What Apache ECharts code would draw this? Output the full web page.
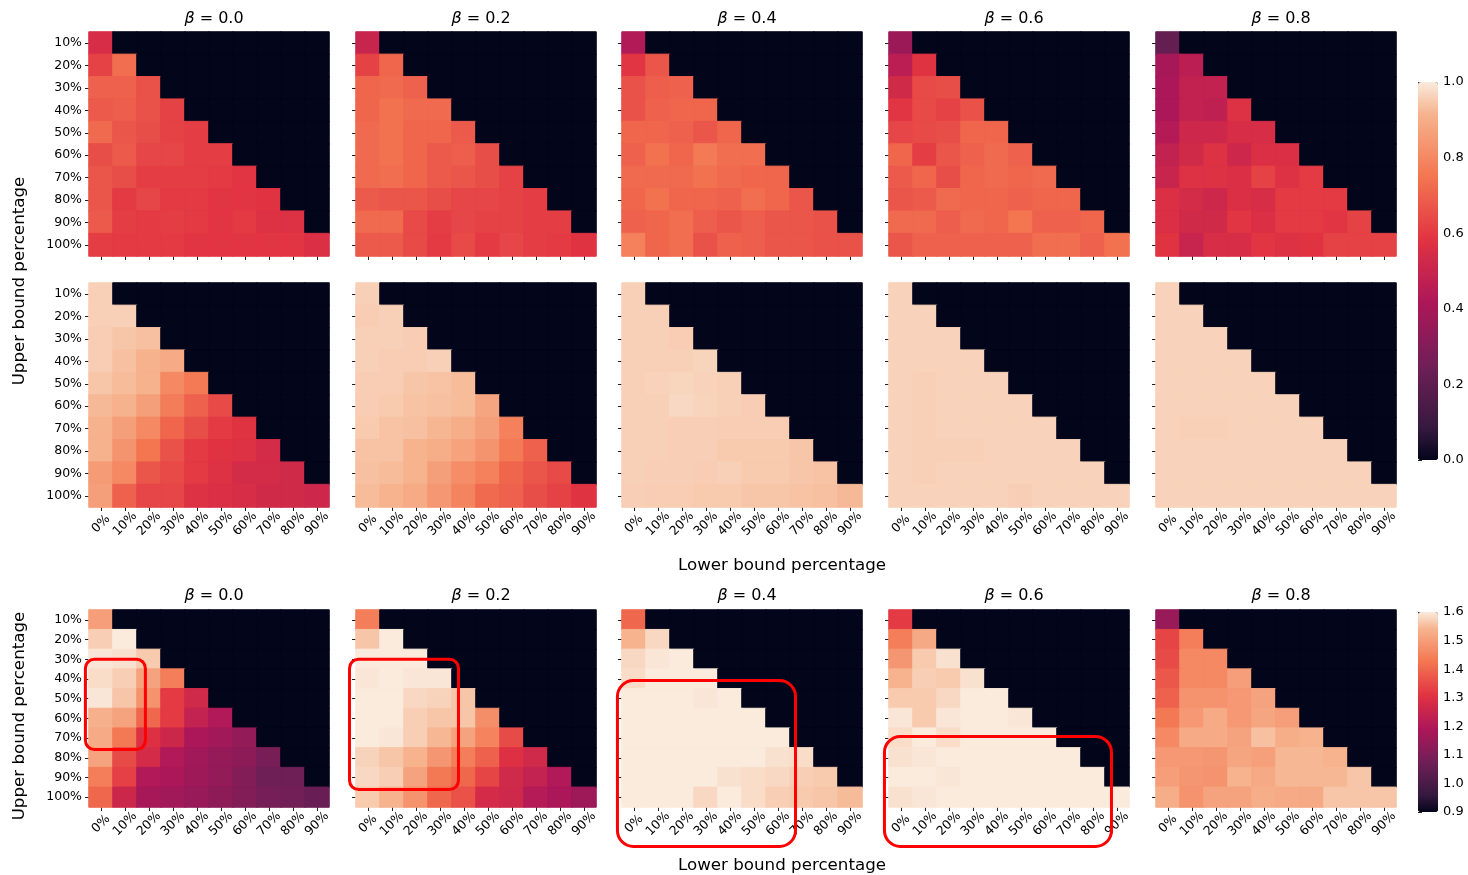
<!DOCTYPE html>
<html><head><meta charset="utf-8">
<script src="https://cdn.jsdelivr.net/npm/echarts@6/dist/echarts.min.js"></script>
<style>html,body{margin:0;padding:0;background:#fff}#c{width:1468px;height:875px}</style>
</head><body><div id="c"></div>
<script>
// ---------------- DATA ----------------
const xCats = ['0%','10%','20%','30%','40%','50%','60%','70%','80%','90%'];
const yCats = ['10%','20%','30%','40%','50%','60%','70%','80%','90%','100%'];
const betaLabels = ['0.0','0.2','0.4','0.6','0.8'];
const MASK = 0; // masked (upper-triangle) cells

// Row 1 (colour scale 0–1)
const r1_b00 = [[0.55],[0.62,0.73],[0.70,0.70,0.66],[0.68,0.69,0.66,0.62],[0.72,0.67,0.65,0.62,0.61],
 [0.65,0.68,0.63,0.63,0.61,0.61],[0.67,0.65,0.61,0.61,0.61,0.60,0.59],[0.67,0.60,0.63,0.60,0.60,0.59,0.59,0.58],
 [0.68,0.61,0.60,0.61,0.60,0.59,0.60,0.57,0.57],[0.61,0.60,0.60,0.60,0.59,0.59,0.59,0.59,0.59,0.56]];
const r1_b02 = [[0.50],[0.62,0.71],[0.71,0.72,0.70],[0.71,0.74,0.72,0.72],[0.72,0.74,0.71,0.71,0.68],
 [0.72,0.74,0.71,0.68,0.69,0.65],[0.72,0.73,0.71,0.68,0.67,0.65,0.62],[0.68,0.67,0.67,0.65,0.63,0.63,0.62,0.61],
 [0.72,0.72,0.64,0.61,0.63,0.62,0.62,0.61,0.61],[0.68,0.68,0.64,0.60,0.64,0.60,0.63,0.61,0.60,0.58]];
const r1_b04 = [[0.43],[0.59,0.67],[0.66,0.69,0.70],[0.66,0.70,0.71,0.71],[0.71,0.71,0.70,0.67,0.71],
 [0.70,0.74,0.71,0.76,0.73,0.73],[0.72,0.72,0.72,0.74,0.72,0.71,0.71],[0.71,0.74,0.71,0.71,0.70,0.73,0.71,0.67],
 [0.70,0.71,0.73,0.69,0.67,0.69,0.67,0.67,0.66],[0.78,0.71,0.73,0.66,0.70,0.69,0.67,0.67,0.66,0.66]];
const r1_b06 = [[0.37],[0.46,0.58],[0.53,0.64,0.65],[0.59,0.64,0.62,0.66],[0.63,0.64,0.65,0.71,0.71],
 [0.71,0.61,0.67,0.70,0.72,0.70],[0.68,0.71,0.65,0.71,0.72,0.71,0.72],[0.67,0.68,0.72,0.71,0.71,0.70,0.71,0.71],
 [0.72,0.72,0.69,0.72,0.71,0.75,0.70,0.70,0.71],[0.67,0.70,0.70,0.70,0.70,0.70,0.73,0.73,0.70,0.74]];
const r1_b08 = [[0.22],[0.40,0.46],[0.41,0.48,0.48],[0.41,0.48,0.47,0.57],[0.44,0.52,0.52,0.55,0.55],
 [0.48,0.53,0.57,0.52,0.56,0.56],[0.50,0.57,0.57,0.56,0.62,0.57,0.60],[0.56,0.54,0.52,0.56,0.55,0.60,0.60,0.60],
 [0.56,0.53,0.53,0.59,0.56,0.60,0.60,0.59,0.62],[0.58,0.50,0.55,0.55,0.59,0.57,0.58,0.62,0.62,0.62]];

// Row 2 (colour scale 0–1)
const r2_b00 = [[0.96],[0.96,0.96],[0.955,0.945,0.935],[0.955,0.935,0.91,0.89],[0.945,0.93,0.91,0.80,0.76],
 [0.925,0.91,0.86,0.77,0.70,0.64],[0.91,0.86,0.80,0.71,0.65,0.60,0.58],[0.91,0.83,0.75,0.66,0.60,0.58,0.57,0.54],
 [0.85,0.80,0.67,0.64,0.60,0.57,0.54,0.54,0.53],[0.86,0.70,0.63,0.63,0.57,0.56,0.55,0.53,0.53,0.52]];
const r2_b02 = [[0.96],[0.955,0.96],[0.96,0.96,0.955],[0.96,0.955,0.955,0.96],[0.955,0.955,0.945,0.94,0.93],
 [0.955,0.95,0.94,0.935,0.93,0.88],[0.95,0.94,0.935,0.92,0.90,0.86,0.78],[0.94,0.94,0.915,0.90,0.87,0.83,0.76,0.70],
 [0.935,0.93,0.915,0.86,0.81,0.78,0.71,0.67,0.64],[0.93,0.915,0.89,0.84,0.79,0.72,0.70,0.65,0.62,0.58]];
const r2_b04 = [[0.96],[0.96,0.96],[0.96,0.96,0.955],[0.96,0.96,0.96,0.965],[0.96,0.962,0.966,0.963,0.96],
 [0.96,0.96,0.972,0.965,0.96,0.955],[0.96,0.96,0.958,0.958,0.955,0.955,0.955],[0.96,0.96,0.958,0.958,0.95,0.95,0.95,0.945],
 [0.96,0.958,0.958,0.955,0.96,0.95,0.95,0.945,0.94],[0.958,0.955,0.955,0.95,0.95,0.945,0.945,0.94,0.935,0.925]];
const r2_b06 = [[0.962],[0.962,0.962],[0.962,0.962,0.962],[0.962,0.962,0.962,0.962],[0.962,0.96,0.962,0.962,0.962],
 [0.962,0.96,0.962,0.962,0.962,0.962],[0.962,0.96,0.962,0.962,0.962,0.962,0.962],[0.962,0.96,0.96,0.96,0.962,0.962,0.962,0.962],
 [0.962,0.96,0.962,0.962,0.962,0.962,0.962,0.962,0.962],[0.962,0.962,0.962,0.962,0.962,0.958,0.962,0.962,0.962,0.962]];
const r2_b08 = [[0.962],[0.962,0.962],[0.962,0.962,0.962],[0.962,0.962,0.962,0.962],[0.962,0.962,0.962,0.962,0.962],
 [0.962,0.962,0.962,0.962,0.962,0.962],[0.962,0.96,0.96,0.962,0.962,0.962,0.962],[0.962,0.962,0.962,0.962,0.962,0.962,0.962,0.962],
 [0.962,0.962,0.962,0.962,0.962,0.962,0.962,0.962,0.962],[0.962,0.962,0.962,0.962,0.962,0.962,0.962,0.962,0.962,0.962]];

// Row 3 (colour scale 0.9–1.6)
const r3_b00 = [[1.50],[1.57,1.60],[1.595,1.59,1.565],[1.585,1.57,1.51,1.44],[1.595,1.56,1.48,1.32,1.27],
 [1.535,1.51,1.40,1.32,1.24,1.20],[1.525,1.43,1.30,1.26,1.19,1.17,1.14],[1.51,1.35,1.28,1.20,1.17,1.145,1.13,1.09],
 [1.44,1.33,1.20,1.19,1.16,1.14,1.11,1.07,1.07],[1.40,1.26,1.18,1.17,1.15,1.13,1.11,1.085,1.08,1.06]];
const r3_b02 = [[1.44],[1.56,1.60],[1.60,1.60,1.60],[1.595,1.60,1.595,1.595],[1.60,1.60,1.58,1.575,1.56],
 [1.60,1.60,1.57,1.56,1.56,1.47],[1.60,1.595,1.57,1.545,1.51,1.45,1.35],[1.575,1.56,1.54,1.485,1.44,1.39,1.30,1.27],
 [1.58,1.57,1.51,1.43,1.40,1.34,1.27,1.24,1.20],[1.565,1.54,1.48,1.40,1.36,1.28,1.265,1.21,1.19,1.16]];
const r3_b04 = [[1.40],[1.54,1.58],[1.58,1.595,1.60],[1.585,1.60,1.60,1.60],[1.60,1.60,1.60,1.595,1.60],
 [1.60,1.60,1.60,1.60,1.60,1.60],[1.60,1.60,1.60,1.60,1.60,1.60,1.60],[1.60,1.60,1.60,1.60,1.60,1.60,1.59,1.585],
 [1.60,1.60,1.60,1.60,1.59,1.585,1.58,1.57,1.565],[1.60,1.60,1.60,1.58,1.60,1.585,1.57,1.565,1.56,1.55]];
const r3_b06 = [[1.32],[1.44,1.52],[1.485,1.565,1.59],[1.54,1.57,1.565,1.59],[1.565,1.565,1.58,1.60,1.60],
 [1.595,1.565,1.595,1.60,1.60,1.595],[1.585,1.60,1.585,1.60,1.60,1.60,1.60],[1.59,1.595,1.60,1.60,1.60,1.60,1.60,1.60],
 [1.60,1.60,1.595,1.60,1.60,1.60,1.60,1.60,1.60],[1.59,1.595,1.60,1.60,1.60,1.60,1.60,1.60,1.60,1.60]];
const r3_b08 = [[1.15],[1.34,1.44],[1.35,1.46,1.46],[1.37,1.46,1.46,1.50],[1.39,1.48,1.48,1.49,1.51],
 [1.43,1.49,1.525,1.49,1.515,1.50],[1.46,1.525,1.525,1.51,1.555,1.53,1.54],[1.49,1.49,1.485,1.515,1.505,1.545,1.545,1.54],
 [1.50,1.485,1.48,1.54,1.52,1.545,1.545,1.545,1.56],[1.53,1.48,1.51,1.51,1.53,1.525,1.52,1.56,1.56,1.56]];

const panels = [
  [r1_b00, r1_b02, r1_b04, r1_b06, r1_b08],
  [r2_b00, r2_b02, r2_b04, r2_b06, r2_b08],
  [r3_b00, r3_b02, r3_b04, r3_b06, r3_b08]
];
const cbTicks1 = [0.0, 0.2, 0.4, 0.6, 0.8, 1.0];
const cbTicks2 = [0.9, 1.0, 1.1, 1.2, 1.3, 1.4, 1.5, 1.6];

// Annotation boxes in cell units of the bottom-row panels: [panel, col0, row0, col1, row1]
const boxes = [[0,-0.15,2.5,2.35,7.08],[1,-0.27,2.5,4.27,9.11],[2,-0.19,3.58,7.23,12.0],[3,-0.19,6.42,9.27,12.0]];

// ---------------- STYLE / LAYOUT ----------------
const FONT = 'DejaVu Sans';
const COL_LEFT = [89, 356, 622, 889, 1156];
const W = 240;
const ROW_TOP = [32, 283, 610];
const ROW_H = [224, 224, 197];
const CB = [{left:1418, top:82, h:378}, {left:1418, top:612, h:200}];
const SCALES = [[0,1],[0,1],[0.9,1.6]];

const ROCKET_STOPS = [[0,'#03051A'],[0.083,'#35193E'],[0.25,'#701F57'],[0.417,'#AD1759'],
  [0.583,'#E13342'],[0.75,'#F37651'],[0.917,'#F6B48F'],[1,'#FAEBDD']];
function hex2rgb(h){return [parseInt(h.slice(1,3),16),parseInt(h.slice(3,5),16),parseInt(h.slice(5,7),16)];}
function sample(t){
  t = Math.max(0, Math.min(1, t));
  for(let k=1;k<ROCKET_STOPS.length;k++){
    const [t1,c1]=ROCKET_STOPS[k], [t0,c0]=ROCKET_STOPS[k-1];
    if(t<=t1){const f=(t-t0)/(t1-t0);const a=hex2rgb(c0),b=hex2rgb(c1);
      return 'rgb('+a.map((v,i)=>Math.round(v+(b[i]-v)*f)).join(',')+')';}
  }
  return ROCKET_STOPS[ROCKET_STOPS.length-1][1];
}
const ROCKET = []; for(let k=0;k<=120;k++) ROCKET.push(sample(k/120));

const grids=[], xAxes=[], yAxes=[], series=[], titles=[];
for(let r=0;r<3;r++){
  const [lo,hi] = SCALES[r];
  for(let c=0;c<5;c++){
    const gi = grids.length;
    grids.push({left:COL_LEFT[c], top:ROW_TOP[r], width:W, height:ROW_H[r], containLabel:false});
    xAxes.push({type:'category', data:xCats, gridIndex:gi, axisLine:{show:false},
      axisTick:{show:true, alignWithLabel:true, length:4, lineStyle:{color:'#222', width:1}},
      axisLabel:{show:r>0, rotate:45, align:'center', verticalAlign:'middle', margin:17,
        fontFamily:FONT, fontSize:12.5, color:'#000'}, splitLine:{show:false}});
    yAxes.push({type:'category', data:yCats, inverse:true, gridIndex:gi, axisLine:{show:false},
      axisTick:{show:true, alignWithLabel:true, length:4, lineStyle:{color:'#222', width:1}},
      axisLabel:{show:c===0, margin:7, fontFamily:FONT, fontSize:12.5, color:'#000'}, splitLine:{show:false}});
    const arr = panels[r][c];
    const data = [];
    for(let i=0;i<10;i++) for(let j=0;j<10;j++){
      const v = j<arr[i].length ? arr[i][j] : MASK;
      // border in the cell's own colour hides anti-aliasing seams between cells
      data.push({value:[j, i, v], itemStyle:{borderWidth:1, borderColor:sample((v-lo)/(hi-lo))}});
    }
    series.push({type:'heatmap', xAxisIndex:gi, yAxisIndex:gi, data:data,
      emphasis:{disabled:true}, progressive:0});
    if(r!==1){
      titles.push({text:'{i|β} = ' + betaLabels[c], left:COL_LEFT[c]+W/2, top:(r===0?6:583), textAlign:'center',
        textStyle:{fontFamily:FONT, fontSize:16, fontWeight:'normal', color:'#000',
          rich:{i:{fontFamily:FONT, fontStyle:'italic', fontSize:16, color:'#000'}}}});
    }
  }
}
// colorbar axes
const cbSpecs = [[0,1,0.2],[0.9,1.6,0.1]];
CB.forEach((cb,k)=>{
  const gi = grids.length;
  grids.push({left:cb.left, top:cb.top, width:20, height:cb.h});
  xAxes.push({type:'value', gridIndex:gi, show:false, min:0, max:1});
  yAxes.push({type:'value', gridIndex:gi, position:'right', min:cbSpecs[k][0], max:cbSpecs[k][1], interval:cbSpecs[k][2],
    axisLine:{show:false}, splitLine:{show:false},
    axisTick:{show:true, length:4, lineStyle:{color:'#222'}},
    axisLabel:{margin:5, fontFamily:FONT, fontSize:13, color:'#000', formatter:v=>v.toFixed(1)}});
  series.push({type:'scatter', xAxisIndex:gi, yAxisIndex:gi, data:[], silent:true});
});

const chart = echarts.init(document.getElementById('c'), null, {renderer:'canvas'});
chart.setOption({
  animation:false, backgroundColor:'#fff',
  title:titles, grid:grids, xAxis:xAxes, yAxis:yAxes, series:series,
  visualMap:[
    {type:'continuous', seriesIndex:[0,1,2,3,4,5,6,7,8,9], min:0, max:1, inRange:{color:ROCKET},
     outOfRange:{color:'#03051A'}, show:true, calculable:false, itemWidth:20, itemHeight:CB[0].h,
     left:CB[0].left, top:CB[0].top, padding:0, text:null, hoverLink:false},
    {type:'continuous', seriesIndex:[10,11,12,13,14], min:0.9, max:1.6, inRange:{color:ROCKET},
     outOfRange:{color:'#03051A'}, show:true, calculable:false, itemWidth:20, itemHeight:CB[1].h,
     left:CB[1].left, top:CB[1].top, padding:0, text:null, hoverLink:false}
  ]
});

// axis titles and annotation boxes (positions derived from layout constants)
const midX = 782;
const LBL = '16.7px "DejaVu Sans"';
const g = [
  {type:'text', x:midX, y:566, style:{text:'Lower bound percentage', font:LBL, fill:'#000', textAlign:'center', textVerticalAlign:'middle'}},
  {type:'text', x:midX, y:866, style:{text:'Lower bound percentage', font:LBL, fill:'#000', textAlign:'center', textVerticalAlign:'middle'}},
  {type:'text', x:20, y:281, rotation:Math.PI/2, style:{text:'Upper bound percentage', font:LBL, fill:'#000', textAlign:'center', textVerticalAlign:'middle'}},
  {type:'text', x:20, y:716, rotation:Math.PI/2, style:{text:'Upper bound percentage', font:LBL, fill:'#000', textAlign:'center', textVerticalAlign:'middle'}}
];
const cw = W/10, ch = ROW_H[2]/10;
boxes.forEach(([p,c0,r0,c1,r1])=>{
  const x0 = COL_LEFT[p] + c0*cw, y0 = ROW_TOP[2] + r0*ch;
  g.push({type:'rect', z:100, shape:{x:x0, y:y0, width:(c1-c0)*cw, height:(r1-r0)*ch, r:(p<2?9:16)},
    style:{fill:'none', stroke:'#FF0000', lineWidth:3}});
});
chart.setOption({graphic:g});
</script></body></html>
